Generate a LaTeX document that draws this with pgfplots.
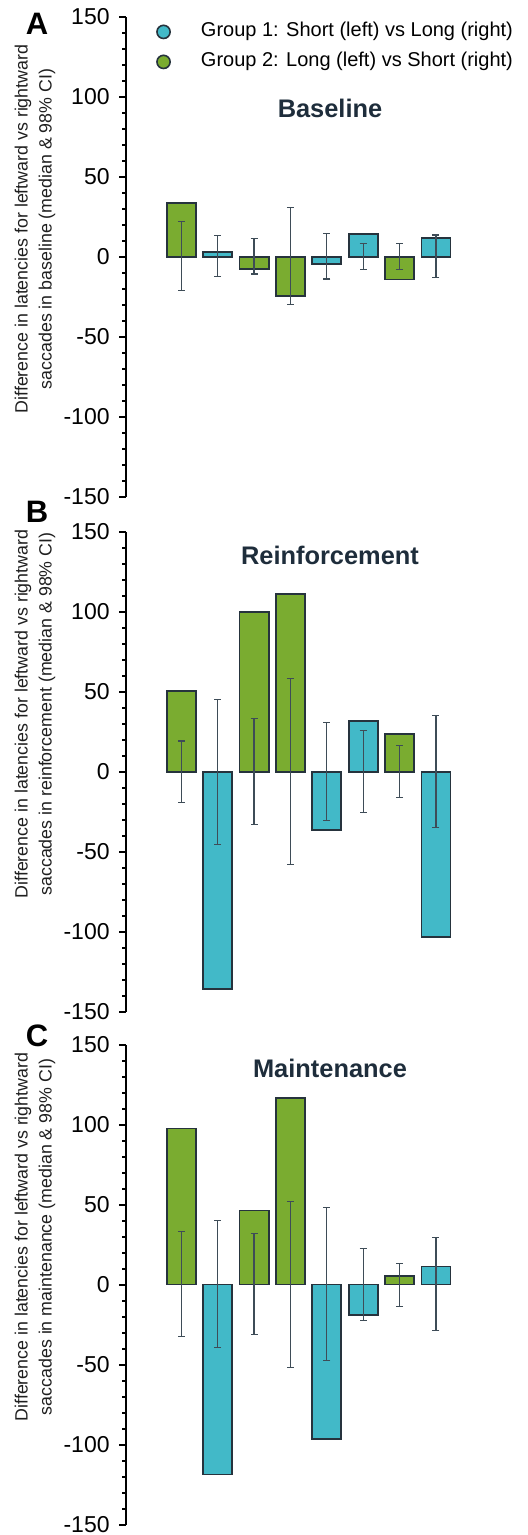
\documentclass[border=0pt]{standalone}
\usepackage{fontspec}
\setmainfont{Liberation Sans}
\usepackage{pgfplots}
\usepackage{pgfplotstable}
\pgfplotsset{compat=1.18}
\definecolor{grn}{HTML}{7AAC30}
\definecolor{cyn}{HTML}{42B9C8}
\definecolor{edg}{HTML}{26333D}
\definecolor{errc}{HTML}{3E4C57}
\definecolor{ttl}{HTML}{1E2D3B}

% x  g2 (Group 2 bar)  g1 (Group 1 bar)  up (CI upper)  dn (|CI lower|)
\pgfplotstableread{
x g2 g1 up dn
0 33.5 nan 21.9 21.3
1 nan 3.1 13.1 12.5
2 -7.9 nan 11.3 10.8
3 -24.4 nan 30.6 29.8
4 nan -4.4 14.6 14.0
5 nan 14.0 8.3 7.9
6 -14.2 nan 8.3 7.9
7 nan 11.9 13.5 12.9
}\tabA
\pgfplotstableread{
x g2 g1 up dn
0 50.4 nan 19.2 19.0
1 nan -136.0 45.2 45.4
2 99.6 nan 33.1 32.9
3 111.0 nan 58.3 58.1
4 nan -36.3 30.6 30.4
5 nan 31.7 25.8 25.6
6 23.8 nan 16.5 16.3
7 nan -103.3 35.0 34.8
}\tabB
\pgfplotstableread{
x g2 g1 up dn
0 97.5 nan 33.0 32.5
1 nan -118.8 40.0 39.6
2 46.3 nan 32.0 31.3
3 116.5 nan 52.0 51.9
4 nan -96.5 48.0 47.7
5 nan -19.2 22.7 22.3
6 5.4 nan 13.3 13.5
7 nan 11.3 29.4 28.8
}\tabC

\pgfplotsset{
  panel/.style={
    scale only axis, width=201pt, height=240pt,
    anchor=north west,
    xmin=-1.52, xmax=9.53, ymin=-150, ymax=150,
    axis x line=none, axis y line=left,
    axis line style={-, line width=1pt, black},
    ytick={-150,-100,-50,0,50,100,150},
    yticklabels={-150,-100,-50,0,50,100,150},
    minor y tick num=4, tick align=outside,
    major tick length=3.5pt, minor tick length=2pt,
    every tick/.style={black, line width=1pt},
    yticklabel style={font=\fontsize{11.5}{13}\selectfont, inner sep=0pt, anchor=east, xshift=-4.5pt},
    clip=false,
  },
  gbar/.style={ybar, bar width=0.8, bar shift=0pt, fill=grn, draw=edg, line width=0.9pt},
  cbar/.style={ybar, bar width=0.8, bar shift=0pt, fill=cyn, draw=edg, line width=0.9pt},
  ebar/.style={draw=none, no markers,
    error bars/.cd, y dir=both, y explicit,
    error bar style={draw=errc, line width=0.6pt},
    error mark options={draw=errc, mark size=1.75pt, line width=0.6pt, rotate=90}},
}

\begin{document}
\begin{tikzpicture}
% Panel A
\begin{axis}[panel, at={(63pt,-8.35pt)},
  legend style={at={(rel axis cs:0.074,0.99)}, anchor=north west, draw=none, fill=none,
    inner sep=0pt, font=\fontsize{10}{12}\selectfont, row sep=5pt,
    nodes={inner sep=0pt, text height=7.5pt, text depth=2.5pt},
    /tikz/every odd column/.append style={column sep=15pt}},
  legend cell align=left]
\addlegendimage{legend image code/.code={\draw[fill=cyn, draw=edg, line width=0.8pt] (0pt,0pt) circle (3.3pt);}}
\addlegendentry{Group 1: Short (left) vs Long (right)}
\addlegendimage{legend image code/.code={\draw[fill=grn, draw=edg, line width=0.8pt] (0pt,0pt) circle (3.3pt);}}
\addlegendentry{Group 2: Long (left) vs Short (right)}
\addplot[forget plot, gbar] table[x=x, y=g2] {\tabA};
\addplot[forget plot, cbar] table[x=x, y=g1] {\tabA};
\addplot[forget plot, ebar] table[x=x, y expr=0, y error plus=up, y error minus=dn] {\tabA};
\end{axis}
% Panel B
\begin{axis}[panel, at={(63pt,-265.85pt)}]
\addplot[gbar] table[x=x, y=g2] {\tabB};
\addplot[cbar] table[x=x, y=g1] {\tabB};
\addplot[ebar] table[x=x, y expr=0, y error plus=up, y error minus=dn] {\tabB};
\end{axis}
% Panel C
\begin{axis}[panel, at={(63pt,-522.25pt)}]
\addplot[gbar] table[x=x, y=g2] {\tabC};
\addplot[cbar] table[x=x, y=g1] {\tabC};
\addplot[ebar] table[x=x, y expr=0, y error plus=up, y error minus=dn] {\tabC};
\end{axis}
% titles
\node[font=\bfseries\fontsize{12.7}{14}\selectfont, text=ttl] at (165pt,-54pt) {Baseline};
\node[font=\bfseries\fontsize{12.7}{14}\selectfont, text=ttl] at (165pt,-277.5pt) {Reinforcement};
\node[font=\bfseries\fontsize{12.7}{14}\selectfont, text=ttl] at (165pt,-534pt) {Maintenance};
% panel letters
\node[font=\bfseries\fontsize{15.5}{16}\selectfont] at (18.5pt,-12pt) {A};
\node[font=\bfseries\fontsize{15.5}{16}\selectfont] at (18.5pt,-256pt) {B};
\node[font=\bfseries\fontsize{15.5}{16}\selectfont] at (18.5pt,-518pt) {C};
% y labels
\node[rotate=90, align=center, font=\fontsize{8.9}{12}\selectfont, text=black!88] at (17.5pt,-114.5pt)
  {Difference in latencies for leftward vs rightward\\saccades in baseline (median \& 98\% CI)};
\node[rotate=90, align=center, font=\fontsize{8.9}{12}\selectfont, text=black!88] at (17.5pt,-357pt)
  {Difference in latencies for leftward vs rightward\\saccades in reinforcement (median \& 98\% CI)};
\node[rotate=90, align=center, font=\fontsize{8.9}{12}\selectfont, text=black!88] at (17.5pt,-618.5pt)
  {Difference in latencies for leftward vs rightward\\saccades in maintenance (median \& 98\% CI)};
\pgfresetboundingbox
\useasboundingbox (0pt,0pt) rectangle (264pt,-767.5pt);
\end{tikzpicture}
\end{document}
